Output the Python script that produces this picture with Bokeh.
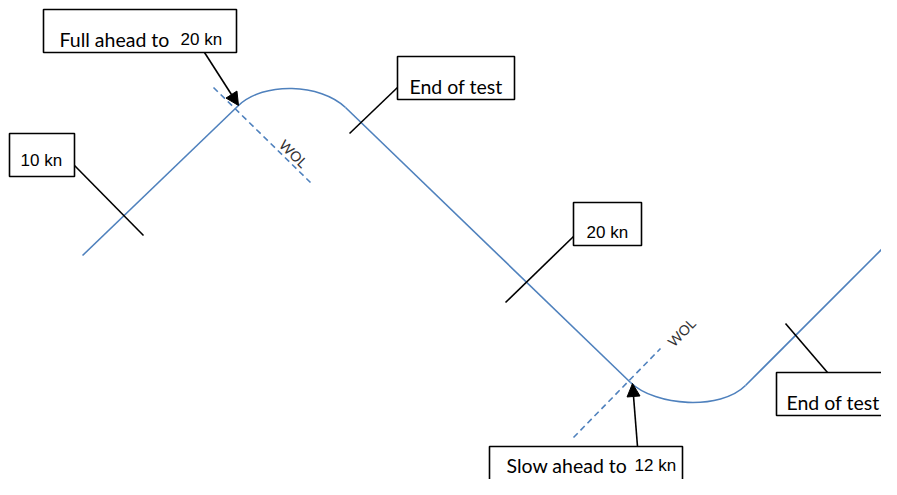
from bokeh.plotting import figure
from bokeh.models import Range1d, Arrow, NormalHead
from bokeh.core.properties import value
from bokeh.embed import file_html
from bokeh.resources import INLINE

# ---- diagram data (coordinates in picture units, y grows downward) ----
# straight legs of the ship track
leg_x0 = [82, 345, 745]
leg_y0 = [255, 107, 385]
leg_x1 = [238, 630, 885]
leg_y1 = [105, 382, 245]
# turning curves (cubic bezier)
turn_x0 = [238, 630]
turn_y0 = [105, 382]
turn_x1 = [345, 745]
turn_y1 = [107, 385]
turn_cx0 = [263, 655]
turn_cy0 = [81, 406]
turn_cx1 = [320, 720]
turn_cy1 = [83, 410]

# wheel-over lines (dashed)
wol_x0 = [213, 573]
wol_y0 = [87, 437]
wol_x1 = [310, 660]
wol_y1 = [182, 348]
wol_label_x = [293, 681]
wol_label_y = [153, 332]
wol_label_angle = [-0.78, 0.80]

# marker ticks from boxes to track
tick_x0 = [74, 397, 573, 827]
tick_y0 = [165, 87, 236, 372]
tick_x1 = [143, 349, 505, 785]
tick_y1 = [235, 133, 302, 323]

# label boxes
box_left = [9, 43, 397, 573, 489, 776]
box_right = [74, 236, 514, 641, 682, 905]
box_top = [133, 9, 56, 202, 446, 372]
box_bottom = [176, 52, 99, 245, 500, 415]

# main labels (Calibri-like)
lab_text = ["Full ahead to", "End of test", "Slow ahead to", "End of test"]
lab_x = [59, 409, 506, 786]
lab_y = [39, 86, 465, 402]
# speed labels (Arial-like)
spd_text = ["20 kn", "10 kn", "20 kn", "12 kn"]
spd_x = [180, 20, 586, 634]
spd_y = [39, 160, 232, 465]

# arrows
arr_x0 = [204, 637]
arr_y0 = [52, 446]
arr_x1 = [238, 632]
arr_y1 = [105, 383]

BLUE = "#4f81bd"

p = figure(width=881, height=479, x_range=Range1d(0, 881), y_range=Range1d(479, 0),
           x_axis_type=None, y_axis_type=None, toolbar_location=None,
           output_backend="svg", min_border=0, outline_line_color=None,
           background_fill_color="white", border_fill_color="white")
p.grid.visible = False

p.segment(leg_x0, leg_y0, leg_x1, leg_y1, line_color=BLUE, line_width=1.6)
p.bezier(turn_x0, turn_y0, turn_x1, turn_y1, turn_cx0, turn_cy0, turn_cx1, turn_cy1,
         line_color=BLUE, line_width=1.6)
p.segment(wol_x0, wol_y0, wol_x1, wol_y1, line_color=BLUE, line_width=1.6, line_dash="6 4")
p.text(wol_label_x, wol_label_y, text=["WOL", "WOL"], angle=wol_label_angle,
       text_align="center", text_baseline="middle", text_font=value("Lato"),
       text_font_size=value("14px"), text_color="#333333")

p.segment(tick_x0, tick_y0, tick_x1, tick_y1, line_color="black", line_width=1.6)

for i in range(len(arr_x0)):
    p.add_layout(Arrow(x_start=arr_x0[i], y_start=arr_y0[i], x_end=arr_x1[i], y_end=arr_y1[i],
                       line_color="black", line_width=1.6,
                       end=NormalHead(size=13, fill_color="black", line_color="black")))

p.quad(left=box_left, right=box_right, top=box_top, bottom=box_bottom,
       fill_color="white", line_color="black", line_width=1.6)

p.text(lab_x, lab_y, text=lab_text, text_align="left", text_baseline="alphabetic",
       text_font=value("Lato"), text_font_size=value("19.5px"), text_color="black")
p.text(spd_x, spd_y, text=spd_text, text_align="left", text_baseline="alphabetic",
       text_font=value("Liberation Sans"), text_font_size=value("17px"), text_color="black")

open("out.html", "w").write(file_html(p, INLINE))
